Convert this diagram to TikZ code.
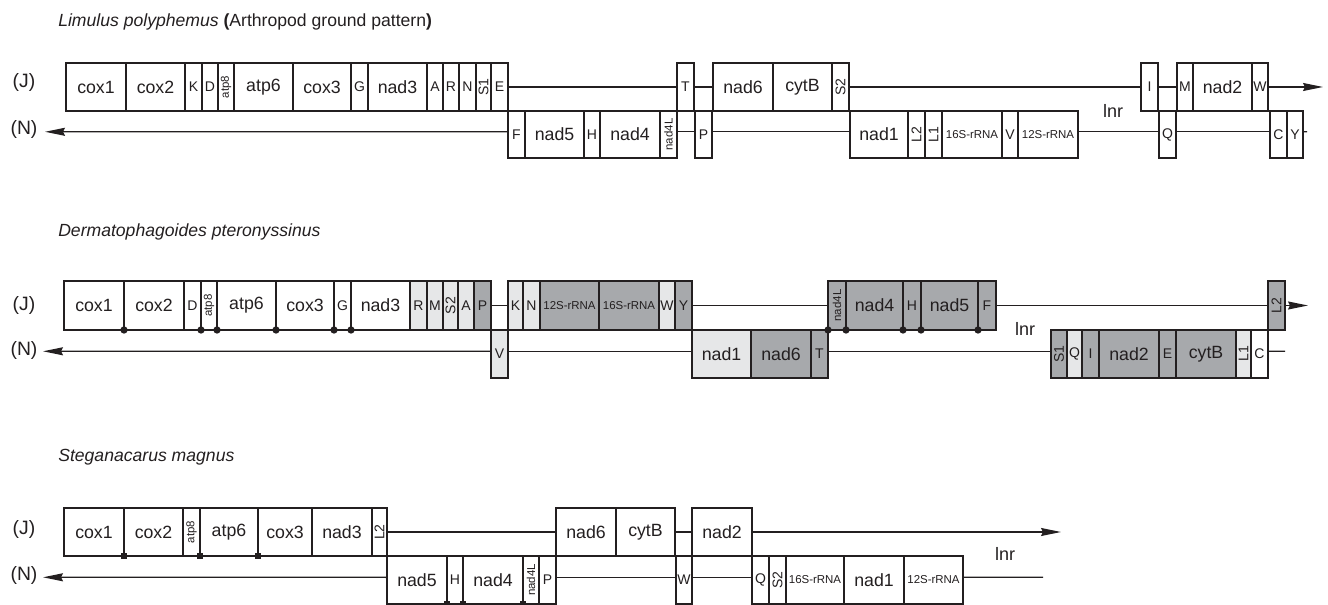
\documentclass[tikz,border=0pt]{standalone}
\usepackage{fontspec}
\setmainfont{Liberation Sans}
\usepackage{graphicx}
\usetikzlibrary{arrows.meta}
\definecolor{lc}{HTML}{231F20}
\definecolor{lg}{HTML}{E6E7E8}
\definecolor{dg}{HTML}{A7A9AC}
\newcommand{\gfbig}{\fontsize{13.3}{15}\selectfont}
\newcommand{\gftr}{\fontsize{10.5}{12}\selectfont}
\newcommand{\gfsm}{\fontsize{8.6}{10}\selectfont}
\newcommand{\gftitle}{\fontsize{13.2}{15}\selectfont}
\newcommand{\gflab}{\fontsize{14.5}{16}\selectfont}
\newcommand{\gflnr}{\fontsize{13.5}{15}\selectfont}
\newcommand{\rot}[1]{\rotatebox{90}{#1}}
\newcommand{\gb}[7]{\node[gbox,#6,minimum width={(#3-#2)*0.75pt},minimum height={(#5-#4)*0.75pt}] (#1) at ({(#2+#3)/2},{(#4+#5)/2}) {#7};}
\tikzset{
  gbox/.style={draw=lc, line width=1pt, inner sep=0pt, outer sep=0pt, text=lc, font=\gfbig, fill=white},
  tr/.style={font=\gftr},
  sm/.style={font=\gfsm},
  lgf/.style={fill=lg},
  dgf/.style={fill=dg},
  conn/.style={draw=lc, line width=1pt},
  arr/.style={conn, -{Stealth[length=15pt,width=6pt,inset=1.5pt]}},
  strand/.style={text=lc, font=\gflab, inner sep=0pt},
  lnr/.style={text=lc, font=\gflnr, inner sep=0pt},
  ttl/.style={text=lc, font=\gftitle, inner sep=0pt, anchor=base west},
  dot/.style={circle, fill=lc, inner sep=0pt, minimum size=5.5pt},
  sq/.style={rectangle, fill=lc, inner sep=0pt, minimum size=4.5pt}
}
\begin{document}
\begin{tikzpicture}[x=0.75pt,y=-0.75pt]
\useasboundingbox (0,0) rectangle (1328,605);

% ---------------- Row 1: Limulus ----------------
\node[ttl] (t1) at (58,27) {\textit{Limulus polyphemus} \textbf{(}Arthropod ground pattern\textbf{)}};
\node[strand] (j1) at (24,83) {(J)};
\node[strand] (n1) at (24,130) {(N)};
% J strand
\gb{r1cox1}{66}{126}{63}{111}{}{cox1}
\gb{r1cox2}{126}{185}{63}{111}{}{cox2}
\gb{r1K}{185}{202}{63}{111}{tr}{K}
\gb{r1D}{202}{218}{63}{111}{tr}{D}
\gb{r1atp8}{218}{234}{63}{111}{sm}{\rot{atp8}}
\gb{r1atp6}{234}{293}{63}{111}{}{atp6}
\gb{r1cox3}{293}{351}{63}{111}{}{cox3}
\gb{r1G}{351}{368}{63}{111}{tr}{G}
\gb{r1nad3}{368}{427}{63}{111}{}{nad3}
\gb{r1A}{427}{443}{63}{111}{tr}{A}
\gb{r1R}{443}{459}{63}{111}{tr}{R}
\gb{r1N}{459}{476}{63}{111}{tr}{N}
\gb{r1S1}{476}{491}{63}{111}{tr}{\rot{S1}}
\gb{r1E}{491}{508}{63}{111}{tr}{E}
\gb{r1T}{677}{694}{63}{111}{tr}{T}
\gb{r1nad6}{713}{773}{63}{111}{}{nad6}
\gb{r1cytB}{773}{832}{63}{111}{}{cytB}
\gb{r1S2}{832}{849}{63}{111}{tr}{\rot{S2}}
\gb{r1I}{1141}{1158}{63}{111}{tr}{I}
\gb{r1M}{1177}{1193}{63}{111}{tr}{M}
\gb{r1nad2}{1193}{1252}{63}{111}{}{nad2}
\gb{r1W}{1252}{1268}{63}{111}{tr}{W}
% N strand
\gb{r1F}{508}{525}{111}{158}{tr}{F}
\gb{r1nad5}{525}{584}{111}{158}{}{nad5}
\gb{r1H}{584}{600}{111}{158}{tr}{H}
\gb{r1nad4}{600}{660}{111}{158}{}{nad4}
\gb{r1nad4L}{660}{677}{111}{158}{sm}{\rot{nad4L}}
\gb{r1P}{695}{712}{111}{158}{tr}{P}
\gb{r1nad1}{850}{908}{111}{158}{}{nad1}
\gb{r1L2}{908}{925}{111}{158}{tr}{\rot{L2}}
\gb{r1L1}{925}{942}{111}{158}{tr}{\rot{L1}}
\gb{r1s16}{942}{1002}{111}{158}{sm}{16S-rRNA}
\gb{r1V}{1002}{1018}{111}{158}{tr}{V}
\gb{r1s12}{1018}{1078}{111}{158}{sm}{12S-rRNA}
\gb{r1Q}{1159}{1176}{111}{158}{tr}{Q}
\gb{r1C}{1270}{1287}{111}{158}{tr}{C}
\gb{r1Y}{1287}{1303}{111}{158}{tr}{Y}
\coordinate (r1Jend) at (1323,87);
\coordinate (r1Nend) at (45,131.8);
\coordinate (r1Ntail) at (1307,131.8);
\draw[conn] (r1E.east) -- (r1T.west);
\draw[conn] (r1T.east) -- (r1nad6.west);
\draw[conn] (r1S2.east) -- (r1I.west);
\draw[conn] (r1I.east) -- (r1M.west);
\draw[arr] (r1W.east) -- (r1Jend);
\draw[arr] ([yshift=2pt]r1F.west) -- (r1Nend);
\draw[conn] ([yshift=2pt]r1nad4L.east) -- ([yshift=2pt]r1P.west);
\draw[conn] ([yshift=2pt]r1P.east) -- ([yshift=2pt]r1nad1.west);
\draw[conn] ([yshift=2pt]r1s12.east) -- ([yshift=2pt]r1Q.west);
\draw[conn] ([yshift=2pt]r1Q.east) -- ([yshift=2pt]r1C.west);
\draw[conn] ([yshift=2pt]r1Y.east) -- (r1Ntail);
\node[lnr] (l1) at (1113,111) {lnr};

% ---------------- Row 2: Dermatophagoides ----------------
\node[ttl] (t2) at (58,237) {\textit{Dermatophagoides pteronyssinus}};
\node[strand] (j2) at (24,305) {(J)};
\node[strand] (n2) at (24,350) {(N)};
% N strand first (behind)
\gb{r2V}{491}{508}{330}{378}{tr,lgf}{V}
\gb{r2nad1}{692}{751}{330}{378}{lgf}{nad1}
\gb{r2nad6}{751}{811}{330}{378}{dgf}{nad6}
\gb{r2T}{811}{828}{330}{378}{tr,dgf}{T}
\gb{r2S1}{1051}{1067}{330}{378}{tr,dgf}{\rot{S1}}
\gb{r2Q}{1067}{1082}{330}{378}{tr,lgf}{Q}
\gb{r2I}{1082}{1099}{330}{378}{tr,dgf}{I}
\gb{r2nad2}{1099}{1159}{330}{378}{dgf}{nad2}
\gb{r2E}{1159}{1176}{330}{378}{tr,dgf}{E}
\gb{r2cytB}{1176}{1236}{330}{378}{dgf}{cytB}
\gb{r2L1}{1236}{1251}{330}{378}{tr,lgf}{\rot{L1}}
\gb{r2C}{1251}{1268}{330}{378}{tr}{C}
% J strand
\gb{r2cox1}{64}{124}{281}{330}{}{cox1}
\gb{r2cox2}{124}{184}{281}{330}{}{cox2}
\gb{r2D}{184}{201}{281}{330}{tr}{D}
\gb{r2atp8}{201}{217}{281}{330}{sm}{\rot{atp8}}
\gb{r2atp6}{217}{276}{281}{330}{}{atp6}
\gb{r2cox3}{276}{334}{281}{330}{}{cox3}
\gb{r2G}{334}{351}{281}{330}{tr}{G}
\gb{r2nad3}{351}{410}{281}{330}{}{nad3}
\gb{r2R}{410}{427}{281}{330}{tr,lgf}{R}
\gb{r2M}{427}{443}{281}{330}{tr,lgf}{M}
\gb{r2S2}{443}{458}{281}{330}{tr,lgf}{\rot{S2}}
\gb{r2A}{458}{474}{281}{330}{tr,lgf}{A}
\gb{r2P}{474}{491}{281}{330}{tr,dgf}{P}
\gb{r2K}{508}{523}{281}{330}{tr,lgf}{K}
\gb{r2N}{523}{540}{281}{330}{tr,lgf}{N}
\gb{r2s12}{540}{599}{281}{330}{sm,dgf}{12S-rRNA}
\gb{r2s16}{599}{659}{281}{330}{sm,dgf}{16S-rRNA}
\gb{r2W}{659}{675}{281}{330}{tr,lgf}{W}
\gb{r2Y}{675}{692}{281}{330}{tr,dgf}{Y}
\gb{r2nad4L}{828}{846}{281}{330}{sm,dgf}{\rot{nad4L}}
\gb{r2nad4}{846}{903}{281}{330}{dgf}{nad4}
\gb{r2H}{903}{921}{281}{330}{tr,dgf}{H}
\gb{r2nad5}{921}{978}{281}{330}{dgf}{nad5}
\gb{r2F}{978}{996}{281}{330}{tr,dgf}{F}
\gb{r2L2}{1268}{1285}{281}{330}{tr,dgf}{\rot{L2}}
\coordinate (r2Jend) at (1308,305.5);
\coordinate (r2Nend) at (43,351.3);
\coordinate (r2Ntail) at (1285,351.3);
\draw[conn] (r2P.east) -- (r2K.west);
\draw[conn] (r2Y.east) -- (r2nad4L.west);
\draw[conn] (r2F.east) -- (r2L2.west);
\draw[arr] (r2L2.east) -- (r2Jend);
\draw[arr] ([yshift=2pt]r2V.west) -- (r2Nend);
\draw[conn] ([yshift=2pt]r2V.east) -- ([yshift=2pt]r2nad1.west);
\draw[conn] ([yshift=2pt]r2T.east) -- ([yshift=2pt]r2S1.west);
\draw[conn] ([yshift=2pt]r2C.east) -- (r2Ntail);
\foreach \n in {r2cox1,r2D,r2atp8,r2atp6,r2cox3,r2G,r2nad4L,r2nad4,r2H,r2nad5}
  \node[dot] at (\n.south east) {};
\node[dot] at (r2nad4L.south west) {};
\node[lnr] (l2) at (1025,329) {lnr};

% ---------------- Row 3: Steganacarus ----------------
\node[ttl] (t3) at (58,462) {\textit{Steganacarus magnus}};
\node[strand] (j3) at (24,529) {(J)};
\node[strand] (n3) at (24,575) {(N)};
% J strand
\gb{r3cox1}{64}{124}{508}{556}{}{cox1}
\gb{r3cox2}{124}{183}{508}{556}{}{cox2}
\gb{r3atp8}{183}{200}{508}{556}{sm}{\rot{atp8}}
\gb{r3atp6}{200}{258}{508}{556}{}{atp6}
\gb{r3cox3}{258}{312}{508}{556}{}{cox3}
\gb{r3nad3}{312}{372}{508}{556}{}{nad3}
\gb{r3L2}{372}{387}{508}{556}{tr}{\rot{L2}}
\gb{r3nad6}{556}{616}{508}{556}{}{nad6}
\gb{r3cytB}{616}{675}{508}{556}{}{cytB}
\gb{r3nad2}{692}{752}{508}{556}{}{nad2}
% N strand
\gb{r3nad5}{387}{447}{556}{604}{}{nad5}
\gb{r3H}{447}{463}{556}{604}{tr}{H}
\gb{r3nad4}{463}{523}{556}{604}{}{nad4}
\gb{r3nad4L}{523}{539}{556}{604}{sm}{\rot{nad4L}}
\gb{r3P}{539}{556}{556}{604}{tr}{P}
\gb{r3W}{676}{692}{556}{604}{tr}{W}
\gb{r3Q}{752}{769}{556}{604}{tr}{Q}
\gb{r3S2}{769}{786}{556}{604}{tr}{\rot{S2}}
\gb{r3s16}{786}{844}{556}{604}{sm}{16S-rRNA}
\gb{r3nad1}{844}{904}{556}{604}{}{nad1}
\gb{r3s12}{904}{963}{556}{604}{sm}{12S-rRNA}
\coordinate (r3Jend) at (1061,532);
\coordinate (r3Nend) at (43,577.3);
\coordinate (r3Ntail) at (1043,577.3);
\draw[conn] (r3L2.east) -- (r3nad6.west);
\draw[conn] (r3cytB.east) -- (r3nad2.west);
\draw[arr] (r3nad2.east) -- (r3Jend);
\draw[arr] ([yshift=2pt]r3nad5.west) -- (r3Nend);
\draw[conn] ([yshift=2pt]r3P.east) -- ([yshift=2pt]r3W.west);
\draw[conn] ([yshift=2pt]r3W.east) -- ([yshift=2pt]r3Q.west);
\draw[conn] ([yshift=2pt]r3s12.east) -- (r3Ntail);
\foreach \n in {r3cox1,r3atp8,r3atp6,r3nad5,r3H,r3nad4}
  \node[sq] at (\n.south east) {};
\node[lnr] (l3) at (1005,554) {lnr};
\end{tikzpicture}
\end{document}
